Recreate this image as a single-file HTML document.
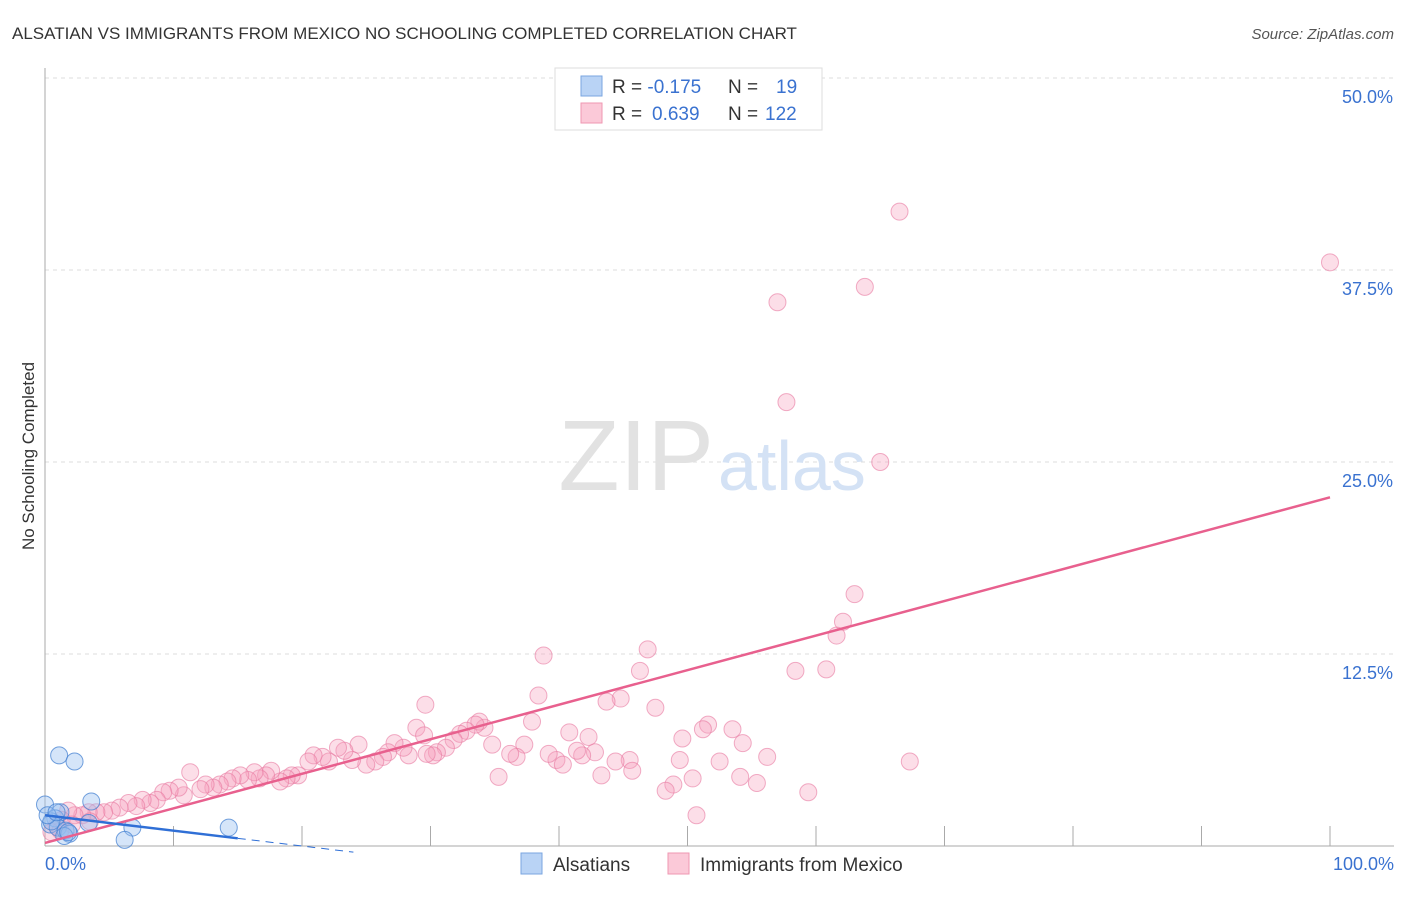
<!DOCTYPE html>
<html><head><meta charset="utf-8"><style>
body{margin:0;background:#fff;font-family:"Liberation Sans",sans-serif}
svg text{font-family:"Liberation Sans",sans-serif}
</style></head><body>
<svg width="1406" height="892" xmlns="http://www.w3.org/2000/svg">
<text x="12" y="39" font-size="17" fill="#333">ALSATIAN VS IMMIGRANTS FROM MEXICO NO SCHOOLING COMPLETED CORRELATION CHART</text>
<text x="1394" y="39" font-size="15" fill="#555" text-anchor="end" font-style="italic">Source: ZipAtlas.com</text>
<text x="34" y="456" font-size="17" fill="#333" text-anchor="middle" transform="rotate(-90 34 456)">No Schooling Completed</text>
<g id="grid"></g>
<text x="714" y="490" font-size="100" fill="#e2e2e2" text-anchor="end" font-family="Liberation Serif">ZIP</text>
<text x="718" y="490" font-size="70" fill="#d4e2f5">atlas</text>
<g id="pts"></g>
<g id="lines"></g>
<rect x="555" y="68" width="267" height="62" fill="#fff" stroke="#ddd"/>
<rect x="581" y="76" width="21" height="20" fill="#b9d3f5" stroke="#7aa6e0"/>
<rect x="581" y="103" width="21" height="20" fill="#fbc9d8" stroke="#ef97b2"/>
<text x="612" y="93" font-size="19" fill="#333">R = <tspan fill="#3a72d0">-0.175</tspan><tspan x="728">N = </tspan><tspan x="776" fill="#3a72d0">19</tspan></text>
<text x="612" y="120" font-size="19" fill="#333">R = <tspan x="652" fill="#3a72d0">0.639</tspan><tspan x="728">N = </tspan><tspan x="765" fill="#3a72d0">122</tspan></text>
<rect x="521" y="853" width="21" height="21" fill="#b9d3f5" stroke="#7aa6e0"/>
<text x="553" y="871" font-size="19" fill="#333">Alsatians</text>
<rect x="668" y="853" width="21" height="21" fill="#fbc9d8" stroke="#ef97b2"/>
<text x="700" y="871" font-size="19" fill="#333">Immigrants from Mexico</text>
</svg>
<script>
const yTicks=[12.5,25,37.5,50];
const yTickLabels=["12.5%","25.0%","37.5%","50.0%"];
const xTickVals=[0,10,20,30,40,50,60,70,80,90,100];
const pinkX=[66.5,100,57.0,63.8,57.7,65.0,63.0,62.1,61.6,58.4,60.8,67.3,59.4,55.4,54.1,56.2,54.3,53.5,51.6,51.2,52.5,50.4,50.7,49.6,49.4,48.9,48.3,46.9,46.3,47.5,44.8,43.7,45.5,44.4,43.3,45.7,42.8,42.3,41.8,41.4,40.8,39.8,39.2,40.3,38.8,38.4,37.9,37.3,36.7,36.2,35.3,34.8,34.2,33.8,33.5,32.8,32.3,31.8,31.2,30.5,30.2,29.7,29.6,28.9,29.5,28.3,27.9,27.2,26.7,26.3,25.7,25.0,24.4,23.9,23.3,22.8,22.1,21.6,20.9,20.5,19.7,19.2,18.8,18.3,17.6,17.2,16.7,16.3,15.8,15.2,14.6,14.2,13.6,13.1,12.5,12.1,11.3,10.8,10.4,9.7,9.2,8.7,8.2,7.6,7.1,6.5,5.8,5.2,4.6,4.0,3.4,2.9,2.3,1.8,1.3,0.9,0.5,1.2,2.1,3.5];
const pinkY=[41.3,38.0,35.4,36.4,28.9,25.0,16.4,14.6,13.7,11.4,11.5,5.5,3.5,4.1,4.5,5.8,6.7,7.6,7.9,7.6,5.5,4.4,2.0,7.0,5.6,4.0,3.6,12.8,11.4,9.0,9.6,9.4,5.6,5.5,4.6,4.9,6.1,7.1,5.9,6.2,7.4,5.6,6.0,5.3,12.4,9.8,8.1,6.6,5.8,6.0,4.5,6.6,7.7,8.1,7.9,7.5,7.3,6.9,6.4,6.1,5.9,6.0,9.2,7.7,7.2,5.9,6.4,6.7,6.1,5.8,5.5,5.3,6.6,5.6,6.2,6.4,5.5,5.8,5.9,5.5,4.6,4.6,4.4,4.2,4.9,4.6,4.4,4.8,4.3,4.6,4.4,4.2,4.0,3.8,4.0,3.7,4.8,3.3,3.8,3.6,3.5,3.0,2.8,3.0,2.6,2.8,2.5,2.3,2.2,2.2,2.2,2.0,2.0,2.3,1.7,1.3,0.9,1.0,1.4,1.6];
const blueX=[0,1.1,2.3,3.6,1.2,0.8,0.4,1.0,1.6,1.9,1.5,0.5,3.4,6.8,6.2,14.3,0.2,0.9,1.8];
const blueY=[2.7,5.9,5.5,2.9,2.2,1.8,1.4,1.2,1.0,0.8,0.65,1.6,1.5,1.2,0.4,1.2,2.0,2.2,0.9];
const pinkTrend=[0.2,22.7];
const blueTrend=[2.0,-0.5];
const sx=v=>45+v*12.85, sy=v=>846-v*15.36;
const NS="http://www.w3.org/2000/svg";
function mk(t,a,p){const e=document.createElementNS(NS,t);for(const k in a)e.setAttribute(k,a[k]);p.appendChild(e);return e;}
const grid=document.getElementById('grid');
yTicks.forEach((v,i)=>{
 const l=mk('line',{x1:45,x2:1394,y1:sy(v),y2:sy(v),stroke:'#ddd','stroke-dasharray':'4,4'},grid);
 
 
 const t=mk('text',{x:1393,y:sy(v)+25,'font-size':18,fill:'#3a72d0','text-anchor':'end'},grid);t.textContent=yTickLabels[i];
 
 
});
const ax=mk('line',{x1:45,x2:45,y1:68,y2:846,stroke:'#aaa'},grid);


const bx=mk('line',{x1:45,x2:1394,y1:846,y2:846,stroke:'#aaa'},grid);


xTickVals.forEach(v=>{const l=mk('line',{x1:sx(v),x2:sx(v),y1:826,y2:846,stroke:'#aaa'},grid);
 
 });
const t0=mk('text',{x:45,y:870,'font-size':18,fill:'#3a72d0'},grid);t0.textContent='0.0%';


const t1=mk('text',{x:1394,y:870,'font-size':18,fill:'#3a72d0','text-anchor':'end'},grid);t1.textContent='100.0%';


const pts=document.getElementById('pts');
pinkX.forEach((x,i)=>{const c=mk('circle',{cx:sx(x),cy:sy(pinkY[i]),r:8.5,fill:'rgba(246,160,188,0.35)',stroke:'rgba(232,120,160,0.6)','stroke-width':1},pts);
 
 });
blueX.forEach((x,i)=>{const c=mk('circle',{cx:sx(x),cy:sy(blueY[i]),r:8.5,fill:'rgba(150,190,240,0.4)',stroke:'rgba(70,130,210,0.75)','stroke-width':1},pts);
 
 });
const lines=document.getElementById('lines');
const pl=mk('line',{x1:sx(0),y1:sy(pinkTrend[0]),x2:sx(100),y2:sy(pinkTrend[1]),stroke:'#e8608e','stroke-width':2.5},lines);


const by=x=>blueTrend[0]+(blueTrend[1]-blueTrend[0])*x/25;
const bl=mk('line',{x1:sx(0),y1:sy(by(0)),x2:sx(15),y2:sy(by(15)),stroke:'#2f6fd6','stroke-width':2.5},lines);


const bd=mk('line',{x1:sx(15),y1:sy(by(15)),x2:sx(24),y2:sy(by(24)),stroke:'#2f6fd6','stroke-width':1,'stroke-dasharray':'8,6'},lines);


</script>
</body></html>
